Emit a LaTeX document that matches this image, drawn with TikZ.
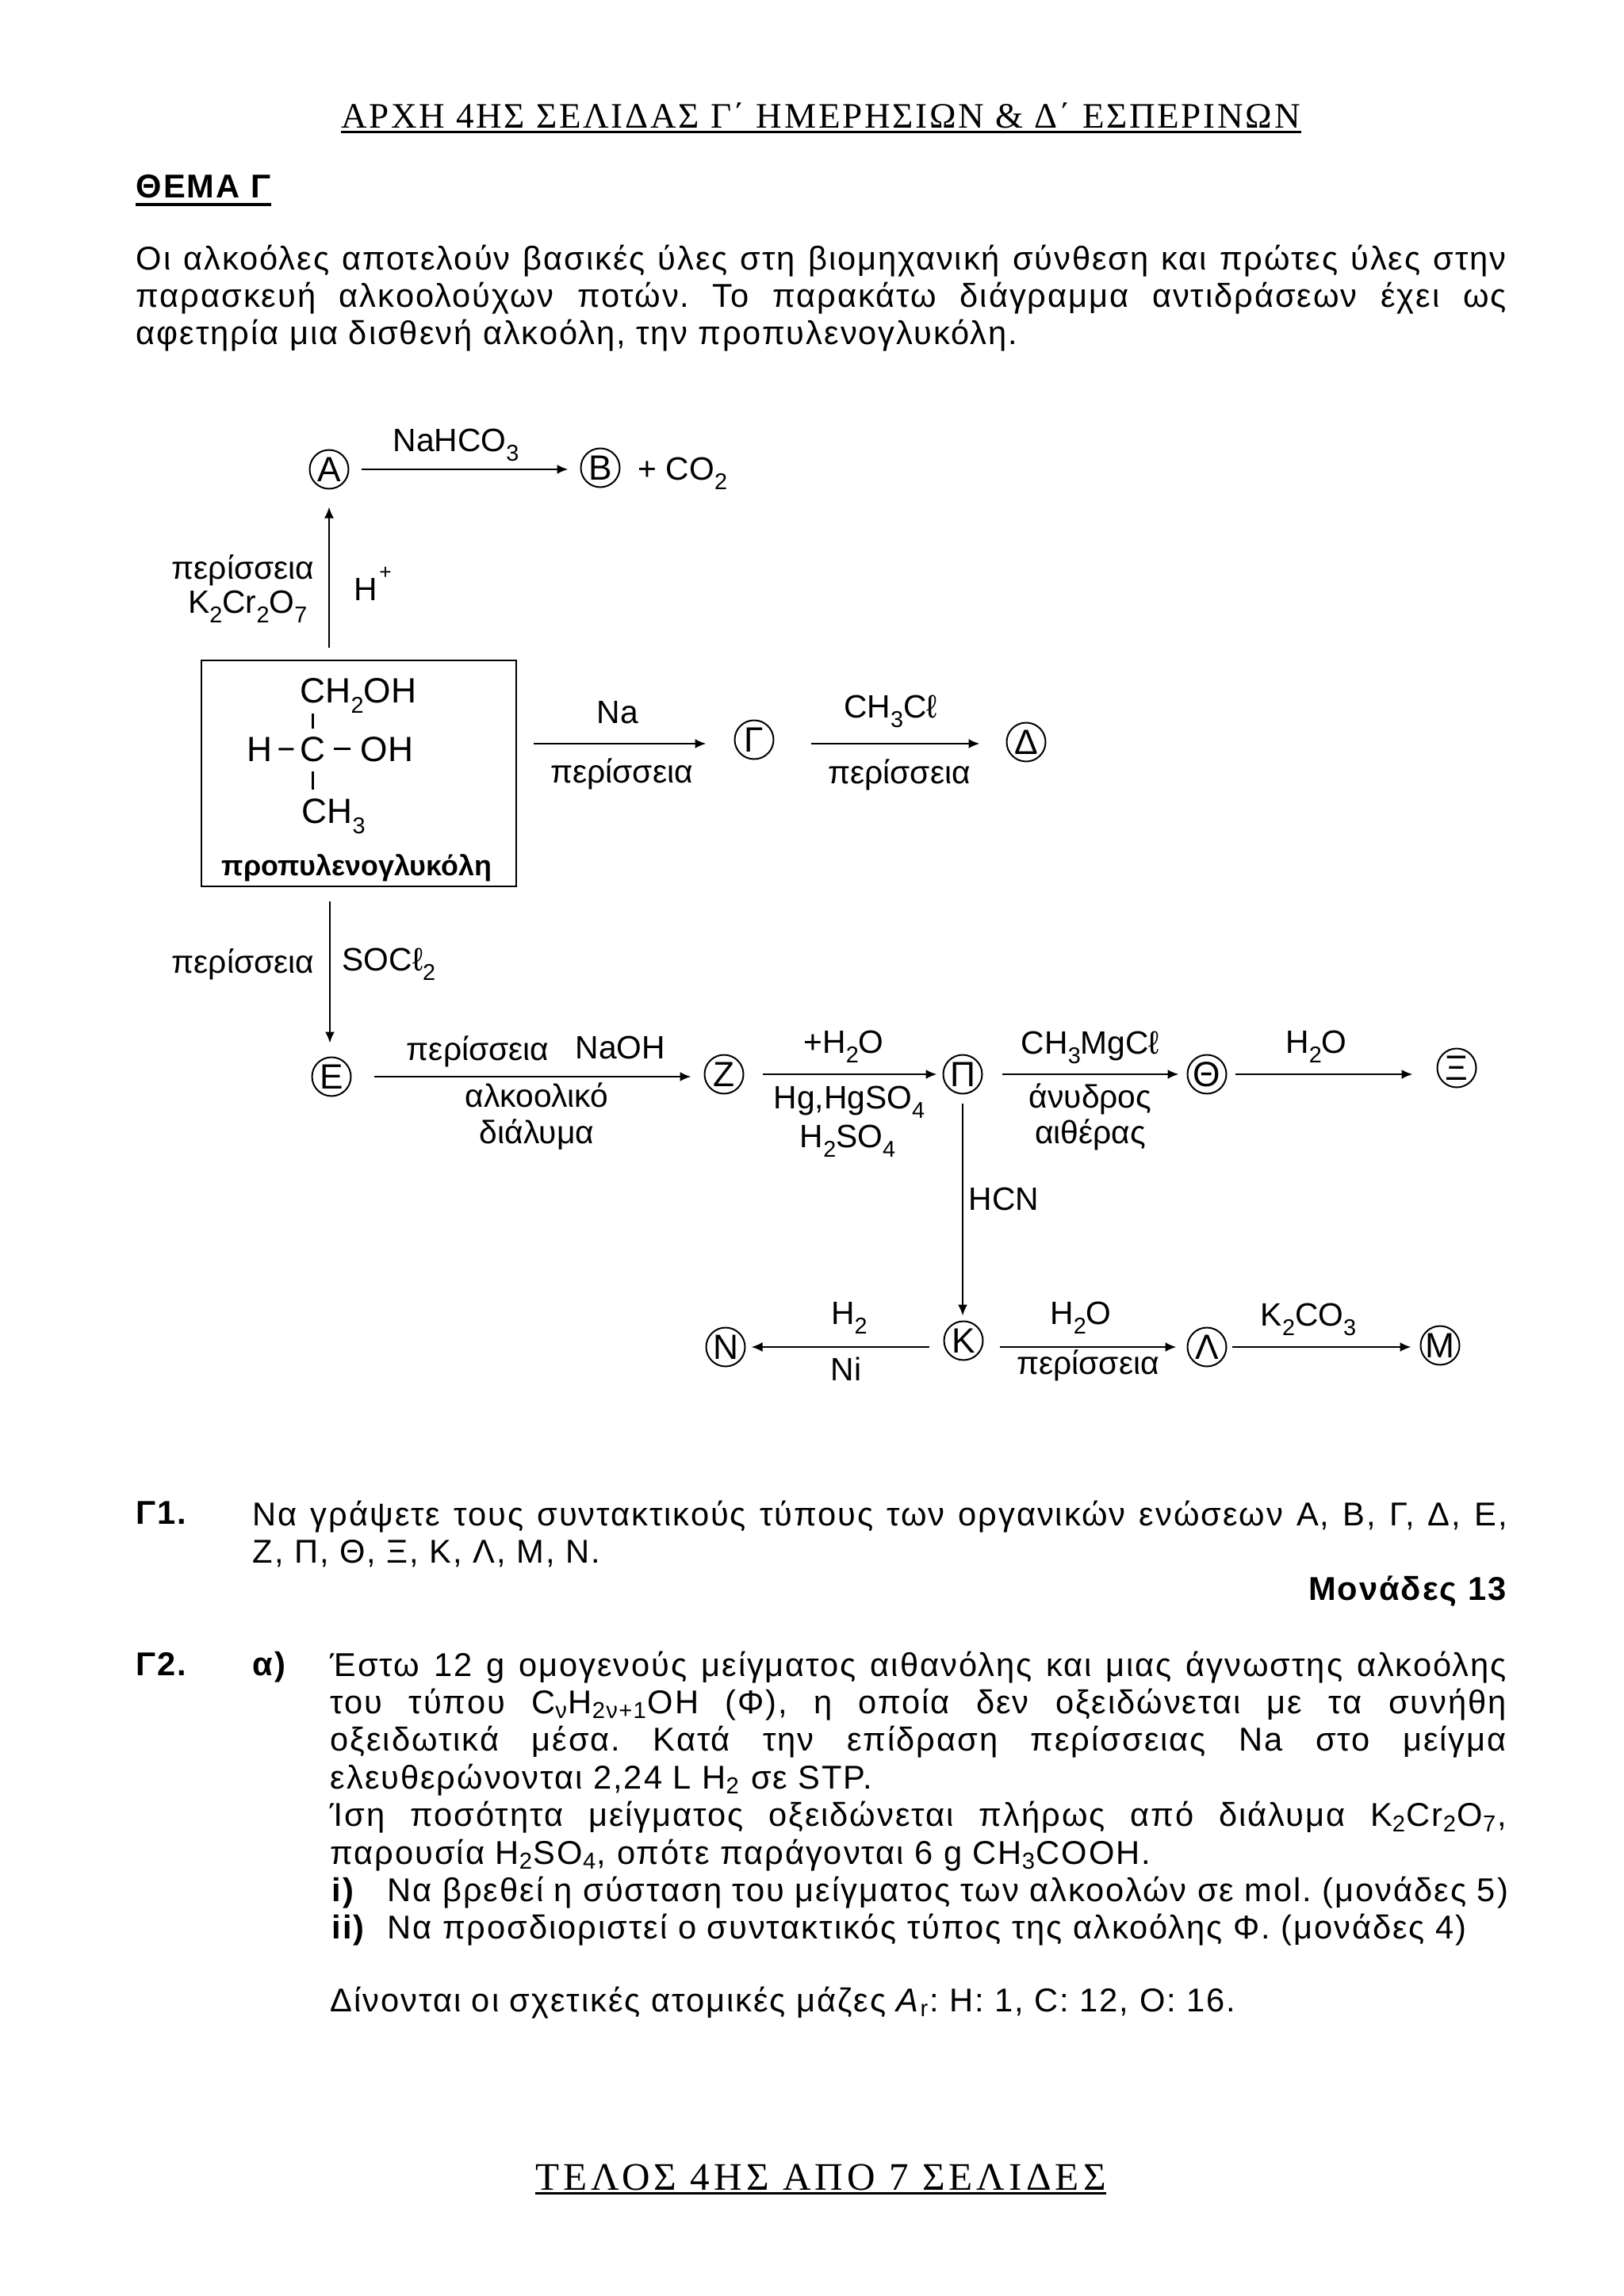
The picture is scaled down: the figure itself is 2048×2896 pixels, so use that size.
\documentclass[tikz,border=0pt]{standalone}
\usepackage{fontspec}
\setmainfont{Liberation Sans}
\newfontfamily\serifhead[LetterSpace=6]{Liberation Serif}
\newfontfamily\serifend[LetterSpace=10.3]{Liberation Serif}
\newfontfamily\bodytext[LetterSpace=4.7]{Liberation Sans}
\usetikzlibrary{arrows.meta}
\newcommand{\sbs}[1]{\textsubscript{#1}}
\newcommand{\sbd}[1]{\raisebox{-0.3em}{\fontsize{8.2}{10}\selectfont #1}}
\newcommand{\bodysize}{\fontsize{11.85}{13.5}\selectfont\frenchspacing}
\newcommand{\schemesize}{\fontsize{11.6}{13.5}\selectfont}
\tikzset{
  lab/.style={inner sep=0,anchor=base},
  labw/.style={inner sep=0,anchor=base west},
  labe/.style={inner sep=0,anchor=base east},
  form/.style={labw,font=\fontsize{12.6}{14}\selectfont},
  bond/.style={line width=0.3mm},
  comp/.style={circle,draw,line width=0.2mm,minimum size=4.9mm,inner sep=0,font=\fontsize{12.6}{14}\selectfont},
  rxn/.style={line width=0.24mm,-{Latex[length=1.4mm,width=1.2mm]}},
  para/.style={inner sep=0,anchor=north west,align=justify,font=\bodytext\bodysize},
  txt/.style={labw,font=\bodytext\bodysize},
}
\begin{document}
\begin{tikzpicture}[x=0.1mm,y=-0.1mm,every node/.style={font=\schemesize}]
  \useasboundingbox (0,0) rectangle (2048,2896);
  % page text above the scheme
  \node[lab,font=\serifhead\fontsize{12.85}{15}\selectfont] (headtop) at (1035,162) {ΑΡΧΗ 4ΗΣ ΣΕΛΙΔΑΣ Γ΄ ΗΜΕΡΗΣΙΩΝ \& Δ΄ ΕΣΠΕΡΙΝΩΝ};
  \draw[line width=0.25mm] ([yshift=-0.45mm]headtop.base west) -- ([yshift=-0.45mm]headtop.base east);
  \node[txt,font=\bodytext\bodysize\bfseries] (thema) at (171,250) {ΘΕΜΑ Γ};
  \draw[line width=0.45mm] ([yshift=-0.8mm]thema.base west) -- ([yshift=-0.8mm]thema.base east);
  \node[para,text width=172.8mm] (intro) at (171,308) {Οι αλκοόλες αποτελούν βασικές ύλες στη βιομηχανική σύνθεση και πρώτες ύλες στην\linebreak
    παρασκευή αλκοολούχων ποτών. Το παρακάτω διάγραμμα αντιδράσεων έχει ως\linebreak
    αφετηρία μια δισθενή αλκοόλη, την προπυλενογλυκόλη.};

  % starting compound
  \node[draw,line width=0.28mm,minimum width=39.7mm,minimum height=28.5mm,inner sep=0] (glycol) at (452.5,975.5) {};
  \node[form] (chtwo) at (378,886) {CH\sbd{2}OH};
  \node[form] (hleft) at (311,960) {H};
  \node[lab,font=\fontsize{12.6}{14}\selectfont] (carbon) at (394,960) {C};
  \node[form] (ohright) at (454,960) {OH};
  \node[form] (chthree) at (380,1038) {CH\sbd{3}};
  \draw[bond,shorten <=0.7mm,shorten >=0.7mm] (hleft.east) -- (carbon.west);
  \draw[bond,shorten <=1mm,shorten >=1.2mm] (carbon.east) -- (ohright.west);
  \draw[bond,shorten <=0mm,shorten >=0.9mm] (chtwo.south -| carbon.north) -- (carbon.north);
  \draw[bond,shorten <=1.2mm,shorten >=1mm] (carbon.south) -- (chthree.north -| carbon.south);
  \node[lab,font=\fontsize{10.2}{12}\selectfont\bfseries] (glycolname) at (450,1104) {προπυλενογλυκόλη};

  % upper branch
  \node[comp] (nA) at (415,592) {Α};
  \node[comp] (nB) at (757,590) {Β};
  \node[labw] (co) at (804,605) {+ CO\sbd{2}};
  \draw[rxn,shorten <=1.5mm,shorten >=1.5mm] (nA.east) -- (nA.east -| nB.west);
  \node[lab] (nahco) at (575,569) {NaHCO\sbd{3}};
  \draw[rxn,line width=0.2mm,shorten <=1.5mm,shorten >=2.2mm] (glycol.north -| nA.south) -- (nA.south);
  \node[labe] (exup) at (397,730) {περίσσεια};
  \node[labe] (kcr) at (388,773) {K\sbd{2}Cr\sbd{2}O\sbd{7}};
  \node[labw] (hplus) at (446,757) {H\raisebox{0.65em}{\fontsize{7.5}{9}\selectfont\kern0.6pt +}};

  % Na branch
  \node[comp] (nG) at (951,933) {Γ};
  \node[comp] (nD) at (1294,936) {Δ};
  \draw[rxn,shorten <=2.1mm,shorten >=3.5mm] (glycol.east |- nG.east) ++(0,5) coordinate (naout) -- (naout -| nG.west);
  \draw[rxn,shorten <=4.6mm,shorten >=3.3mm] (nG.east) ++(0,5) coordinate (gout) -- (gout -| nD.west);
  \node[lab] (na) at (779,912) {Na};
  \node[lab] (exna) at (784,987) {περίσσεια};
  \node[lab] (chcl) at (1123,905) {CH\sbd{3}Cℓ};
  \node[lab] (excl) at (1134,988) {περίσσεια};

  % lower row
  \node[comp] (nE) at (418,1358) {Ε};
  \node[comp] (nZ) at (913,1355) {Ζ};
  \node[comp] (nP) at (1214,1355) {Π};
  \node[comp] (nTh) at (1522,1355) {Θ};
  \node[comp] (nX) at (1837,1347) {Ξ};
  \draw[rxn,line width=0.2mm,shorten <=1.8mm,shorten >=1.7mm] (glycol.south -| nE.north) ++(-2,0) coordinate (soc) -- (soc |- nE.north);
  \node[labe] (exsoc) at (397,1227) {περίσσεια};
  \node[labw] (soccl) at (431,1224) {SOCℓ\sbd{2}};
  \draw[rxn,shorten <=2.8mm,shorten >=1.6mm] (nE.east) -- (nE.east -| nZ.west);
  \node[labw] (exnaoh) at (512,1337) {περίσσεια};
  \node[labw] (naoh) at (725,1335) {NaOH};
  \node[lab] (alk) at (677,1396) {αλκοολικό};
  \node[lab] (dial) at (677,1442) {διάλυμα};
  \draw[rxn,shorten <=2.3mm,shorten >=0.7mm] (nZ.east) -- (nP.west);
  \node[lab] (hwater) at (1064,1328) {+H\sbd{2}O};
  \node[lab] (hgso) at (1071,1398) {Hg,HgSO\sbd{4}};
  \node[lab] (hso) at (1069,1447) {H\sbd{2}SO\sbd{4}};
  \draw[rxn,shorten <=2.4mm,shorten >=1mm] (nP.east) -- (nTh.west);
  \node[lab] (grig) at (1375,1329) {CH\sbd{3}MgCℓ};
  \node[lab] (anyd) at (1375,1397) {άνυδρος};
  \node[lab] (aith) at (1375,1442) {αιθέρας};
  \draw[rxn,shorten <=1mm,shorten >=3mm] (nTh.east) -- (nTh.east -| nX.west);
  \node[lab] (water) at (1660,1328) {H\sbd{2}O};

  % bottom row
  \node[comp] (nN) at (915,1699) {Ν};
  \node[comp] (nK) at (1215,1691) {Κ};
  \node[comp] (nL) at (1522,1699) {Λ};
  \node[comp] (nM) at (1816,1697) {Μ};
  \draw[rxn,line width=0.2mm,shorten <=1.1mm,shorten >=0.6mm] (nP.south) -- (nP.south |- nK.north);
  \node[labw] (hcn) at (1221,1526) {HCN};
  \draw[rxn,shorten <=1.8mm,shorten >=0.7mm] (nK.west |- nN.east) -- (nN.east);
  \node[lab] (htwo) at (1071,1670) {H\sbd{2}};
  \node[lab] (ni) at (1067,1741) {Ni};
  \draw[rxn,shorten <=2mm,shorten >=1.3mm] (nK.east |- nL.west) -- (nL.west);
  \node[lab] (waterk) at (1363,1670) {H\sbd{2}O};
  \node[lab] (exk) at (1372,1733) {περίσσεια};
  \draw[rxn,shorten <=0.6mm,shorten >=1.1mm] (nL.east) -- (nL.east -| nM.west);
  \node[lab] (kco) at (1650,1672) {K\sbd{2}CO\sbd{3}};

  % questions
  \node[txt,font=\bodytext\bodysize\bfseries] (gone) at (171,1922) {Γ1.};
  \node[para,text width=158.2mm] (gonetext) at (318,1892) {Να γράψετε τους συντακτικούς τύπους των οργανικών ενώσεων Α, Β, Γ, Δ, Ε,\linebreak
    Ζ, Π, Θ, Ξ, Κ, Λ, Μ, Ν.};
  \node[labe,font=\bodytext\bodysize\bfseries] (monades) at (1900,2018) {Μονάδες 13};
  \node[txt,font=\bodytext\bodysize\bfseries] (gtwo) at (171,2113) {Γ2.};
  \node[txt,font=\bodytext\bodysize\bfseries] (galpha) at (318,2113) {α)};
  \node[para,text width=148.3mm] (gtwotext) at (416,2082) {Έστω 12 g ομογενούς μείγματος αιθανόλης και μιας άγνωστης αλκοόλης\linebreak
    του τύπου C\sbs{ν}H\sbs{2ν+1}OH (Φ), η οποία δεν οξειδώνεται με τα συνήθη\linebreak
    οξειδωτικά μέσα. Κατά την επίδραση περίσσειας Na στο μείγμα\linebreak
    ελευθερώνονται 2,24 L H\sbs{2} σε STP.\\
    Ίση ποσότητα μείγματος οξειδώνεται πλήρως από διάλυμα K\sbs{2}Cr\sbs{2}O\sbs{7},\linebreak
    παρουσία H\sbs{2}SO\sbs{4}, οπότε παράγονται 6 g CH\sbs{3}COOH.};
  \node[txt,font=\bodytext\bodysize\bfseries] (roma) at (418,2398) {i)};
  \node[txt] (romatext) at (488,2398) {Να βρεθεί η σύσταση του μείγματος των αλκοολών σε mol. (μονάδες 5)};
  \node[txt,font=\bodytext\bodysize\bfseries] (romb) at (418,2445) {ii)};
  \node[txt] (rombtext) at (488,2445) {Να προσδιοριστεί ο συντακτικός τύπος της αλκοόλης Φ. (μονάδες 4)};
  \node[txt] (masses) at (416,2537) {Δίνονται οι σχετικές ατομικές μάζες \textit{A}\sbs{r}: H: 1, C: 12, O: 16.};
  \node[lab,font=\serifend\fontsize{14}{16}\selectfont] (headend) at (1035,2762) {ΤΕΛΟΣ 4ΗΣ ΑΠΟ 7 ΣΕΛΙΔΕΣ};
  \draw[line width=0.3mm] ([yshift=-0.45mm]headend.base west) -- ([yshift=-0.45mm]headend.base east);
\end{tikzpicture}
\end{document}
